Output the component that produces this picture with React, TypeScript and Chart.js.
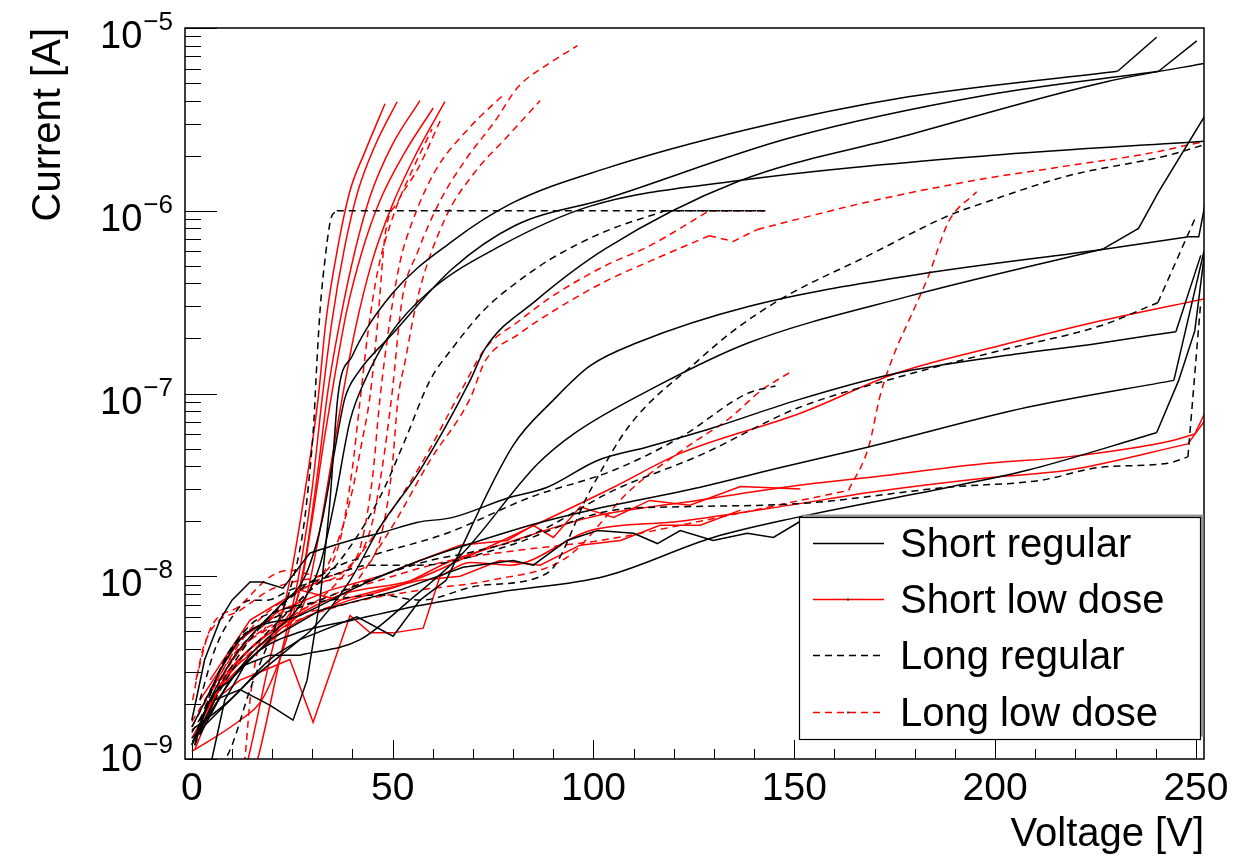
import { useEffect, useRef } from "react";
import { Chart, registerables } from "chart.js";

Chart.register(...registerables);

// ---------- Short regular (black solid) ----------
const srA_v = [0, 5.7, 12, 19.4, 25.2, 28.7, 31.9, 34.4, 36.4, 39.9, 49.8, 64.8, 79.7, 102.9, 138.8, 178.4, 230.5, 240.2];
const srA_i = [1.19e-9, 2.1e-9, 2.4e-9, 1.97e-9, 1.63e-9, 2.7e-9, 7.4e-9, 2.6e-8, 9.8e-8, 1.6e-7, 3.5e-7, 6.8e-7, 1.1e-6, 1.7e-6, 2.8e-6, 4.2e-6, 5.8e-6, 8.9e-6];
const srB_v = [0, 4.5, 10, 15.7, 21.9, 28.2, 32.4, 35.6, 38.1, 41.4, 49.8, 64.8, 80.5, 102.9, 148.8, 198, 240.7, 250.2];
const srB_i = [1.2e-9, 2.1e-9, 3.5e-9, 5.0e-9, 6.9e-9, 1.0e-8, 2.0e-8, 4.9e-8, 9.4e-8, 1.3e-7, 2.1e-7, 4.8e-7, 8.3e-7, 1.16e-6, 2.5e-6, 4.3e-6, 5.8e-6, 8.5e-6];
const srC_v = [0, 9.5, 19.4, 29.4, 39.4, 46.8, 56.8, 69.3, 73, 85.5, 103, 135.8, 178.4, 228, 252.2];
const srC_i = [1.44e-9, 2.1e-9, 3.5e-9, 5.0e-9, 9.5e-9, 1.85e-8, 3.8e-8, 1.18e-7, 1.76e-7, 3.2e-7, 6.2e-7, 1.44e-6, 2.6e-6, 5.1e-6, 6.4e-6];
const srD_v = [2, 8.2, 14.5, 20.7, 26.9, 31.9, 35.6, 39.4, 43.1, 49.3, 59.3, 76.7, 99.2, 135.8, 198, 252.2];
const srD_i = [1.35e-9, 2.4e-9, 3.7e-9, 5.0e-9, 6.9e-9, 1.15e-8, 2.6e-8, 7.1e-8, 1.18e-7, 2.1e-7, 3.65e-7, 6.4e-7, 1.06e-6, 1.46e-6, 2.0e-6, 2.4e-6];
const srE_v = [0, 14.5, 26.9, 41.1, 50.1, 56.8, 63.3, 80, 90, 99.2, 111, 138.8, 178.4, 228, 248.2, 250.7, 252.2];
const srE_i = [1.3e-9, 2.7e-9, 4.5e-9, 6.0e-9, 4.7e-9, 7.4e-9, 9.5e-9, 5.2e-8, 9.2e-8, 1.42e-7, 1.9e-7, 3.0e-7, 4.4e-7, 6.2e-7, 7.2e-7, 7.2e-7, 1.07e-6];
const srF_v = [5, 8.2, 13.2, 19.4, 26.9, 41.9, 54.3, 67.5, 86, 95, 115.9, 138.8, 178.4, 227, 235.7, 240.7, 252.2];
const srF_i = [1.0e-9, 2.1e-9, 3.27e-9, 3.7e-9, 3.7e-9, 4.5e-9, 7.4e-9, 1.34e-8, 4.1e-8, 6.0e-8, 1.1e-7, 1.9e-7, 3.4e-7, 6.2e-7, 8.0e-7, 1.27e-6, 3.3e-6];
const srG_v = [0, 3.2, 7, 10, 14.5, 17.7, 22.7, 29.4, 39.4, 47.6, 56, 65, 78.5, 88.5, 101, 113.4, 129.8, 150.7, 175.4, 201.3, 225.5, 245, 251.2];
const srG_i = [1.63e-9, 3.5e-9, 5.75e-9, 7.4e-9, 9.3e-9, 9.3e-9, 8.6e-9, 1.34e-8, 1.57e-8, 1.74e-8, 1.97e-8, 2.1e-8, 2.67e-8, 3.07e-8, 4.3e-8, 5.1e-8, 6.5e-8, 9.2e-8, 1.29e-7, 1.6e-7, 1.88e-7, 2.18e-7, 5.7e-7];
const srH_v = [0, 12, 26.9, 41.9, 56.8, 71.8, 86.7, 99.2, 126.6, 145.8, 168.5, 208, 244.5, 252];
const srH_i = [1.5e-9, 4.5e-9, 6.1e-9, 8.9e-9, 1.22e-8, 1.57e-8, 1.97e-8, 2.3e-8, 3.07e-8, 3.9e-8, 5.1e-8, 8.4e-8, 1.18e-7, 6.0e-7];
const srK_v = [0.7, 4.5, 9.5, 17, 26.9, 39.9, 56.3, 76.7, 102.9, 129.8, 150.7, 188.4, 208, 240.2, 245.7, 249.7, 252.2];
const srK_i = [1.19e-9, 2.1e-9, 2.7e-9, 3.95e-9, 4.95e-9, 5.75e-9, 6.9e-9, 8.2e-9, 1.0e-8, 1.63e-8, 2.1e-8, 3.07e-8, 3.8e-8, 6.1e-8, 1.18e-7, 2.2e-7, 6.0e-7];
const srL_v = [2, 9.5, 19.4, 31.9, 41.9, 51.8, 67.5, 80, 85, 93.4, 101, 110, 115.9, 121.6, 129.8, 138.3, 144.8, 151.5];
const srL_i = [1.44e-9, 2.7e-9, 4.5e-9, 6.5e-9, 7.4e-9, 8.4e-9, 1.12e-8, 1.22e-8, 1.15e-8, 1.57e-8, 1.78e-8, 1.72e-8, 1.51e-8, 1.78e-8, 1.57e-8, 1.72e-8, 1.63e-8, 2.0e-8];

// ---------- Long regular (black dashed) ----------
const lrA_v = [6, 10, 14.5, 19.4, 24.4, 27.7, 29.4, 30.4, 30.9, 31.9, 33.4, 34.6, 36.1, 142.8];
const lrA_i = [8e-10, 1.19e-9, 2.4e-9, 4.5e-9, 8.4e-9, 1.78e-8, 3.8e-8, 7.1e-8, 1.18e-7, 2.8e-7, 6.0e-7, 9.0e-7, 1.0e-6, 1.0e-6];
const lrB_v = [1.5, 7, 14.5, 21.9, 34.4, 46.8, 56.8, 71.8, 88.5, 99.2, 109, 125.8, 134.8, 146.8, 168.5, 188.4, 198, 218, 242.7, 252.2];
const lrB_i = [1.44e-9, 3.07e-9, 5.4e-9, 6.5e-9, 7.4e-9, 7.9e-9, 7.4e-9, 8.9e-9, 1.04e-8, 2.95e-8, 6.7e-8, 1.5e-7, 2.2e-7, 3.3e-7, 5.7e-7, 9.4e-7, 1.12e-6, 1.55e-6, 2.0e-6, 2.3e-6];
const lrC_v = [0, 14.5, 26.9, 36.9, 46.8, 63.5, 84.2, 105, 121.6, 138.3, 145.3];
const lrC_i = [1.4e-9, 4.5e-9, 8.4e-9, 1.15e-8, 1.34e-8, 1.72e-8, 2.7e-8, 3.8e-8, 5.75e-8, 1.0e-7, 1.1e-7];
const lrD_v = [2, 9.5, 19.4, 31.9, 46.8, 59.3, 69.3, 84.2, 105, 126.6, 150.7, 175.4, 201.3, 226.3, 240.5, 249.9];
const lrD_i = [1.63e-9, 3.95e-9, 5.75e-9, 7.4e-9, 1.0e-8, 1.22e-8, 1.35e-8, 1.67e-8, 2.95e-8, 4.6e-8, 8.3e-8, 1.22e-7, 1.72e-7, 2.35e-7, 3.14e-7, 9.2e-7];
const lrE_v = [2, 5.7, 9.5, 14.5, 18.7, 24.4, 34.4, 44.4, 56.8, 76.7, 105, 121.6, 151.5, 188.4, 211.3, 226.3, 243, 248, 251.2];
const lrE_i = [2.1e-9, 3.95e-9, 5.75e-9, 7.4e-9, 7.4e-9, 8.4e-9, 1.0e-8, 1.15e-8, 1.15e-8, 1.42e-8, 2.3e-8, 2.4e-8, 2.5e-8, 3.07e-8, 3.35e-8, 3.95e-8, 4.15e-8, 4.5e-8, 3.2e-7];
const lrF_v = [0.7, 5.7, 12, 17, 26.9, 36.9, 46.8, 53, 59.3, 64.8, 73, 81.2, 89.7, 102.9, 117.9, 142.8];
const lrF_i = [1.19e-9, 2.1e-9, 3.5e-9, 4.5e-9, 7.4e-9, 1.22e-8, 2.7e-8, 5.5e-8, 1.18e-7, 1.76e-7, 2.9e-7, 4.1e-7, 5.5e-7, 7.7e-7, 1.0e-6, 1.0e-6];

// ---------- Short low dose (red solid) ----------
const sdA_v = [12, 14, 19.4, 24.4, 28.2, 31.4, 33.4, 36.4, 39.4, 43.1, 48.1];
const sdA_i = [7e-10, 1.0e-9, 3.5e-9, 9.5e-9, 2.95e-8, 9.2e-8, 2.5e-7, 6.4e-7, 1.29e-6, 2.1e-6, 3.85e-6];
const sdB_v = [14, 16.4, 21.9, 26.4, 29.9, 32.4, 34.9, 38.1, 41.4, 45.6, 51.1];
const sdB_i = [7e-10, 1.0e-9, 3.5e-9, 9.5e-9, 2.95e-8, 9.2e-8, 2.5e-7, 6.4e-7, 1.29e-6, 2.27e-6, 3.95e-6];
const sdC_v = [0, 12, 17.4, 21.9, 24.9, 28.2, 31.4, 33.9, 36.9, 40.6, 44.4, 49.8, 56.8];
const sdC_i = [1.1e-9, 1.63e-9, 2.1e-9, 3.5e-9, 5.75e-9, 1.22e-8, 3.8e-8, 1.04e-7, 2.5e-7, 6.0e-7, 1.2e-6, 2.27e-6, 4.0e-6];
const sdD_v = [2, 9.5, 17, 23.2, 26.9, 29.9, 32.9, 35.4, 38.6, 42.4, 46.8, 53.1, 60.1];
const sdD_i = [1.63e-9, 3.07e-9, 4.5e-9, 5.75e-9, 8.4e-9, 2.0e-8, 5.5e-8, 1.18e-7, 2.85e-7, 6.0e-7, 1.13e-6, 2.1e-6, 3.65e-6];
const sdE_v = [0.7, 8.2, 15.7, 21.9, 28.2, 31.4, 34.4, 36.9, 40.6, 44.9, 49.8, 55.6, 63];
const sdE_i = [1.27e-9, 2.7e-9, 3.95e-9, 5.1e-9, 7.4e-9, 1.57e-8, 3.8e-8, 8.1e-8, 2.2e-7, 5.3e-7, 1.06e-6, 2.0e-6, 3.95e-6];
const sdF_v = [2, 12, 24.4, 36.9, 55, 69.3, 84.2, 105, 121.6, 151.5, 175.4, 201.3, 226.3, 252.2];
const sdF_i = [1.63e-9, 3.5e-9, 5.75e-9, 7.9e-9, 9.5e-9, 1.3e-8, 1.85e-8, 3.07e-8, 4.7e-8, 7.8e-8, 1.29e-7, 1.83e-7, 2.5e-7, 3.3e-7];
const sdG_v = [0, 7, 17, 26.9, 39.4, 51.8, 64.8, 76.7, 99.2, 125.8, 150.7, 168.5, 198.1, 218, 243.7, 249.7, 252.2];
const sdG_i = [1.3e-9, 2.4e-9, 3.95e-9, 5.75e-9, 7.4e-9, 8.9e-9, 1.22e-8, 1.48e-8, 2.1e-8, 2.6e-8, 3.14e-8, 3.47e-8, 4.15e-8, 4.5e-8, 5.5e-8, 6.0e-8, 7.8e-8];
const sdH_v = [0.7, 5.7, 12, 18.2, 24.4, 30.2, 39.4, 44.4, 50.1, 57.6, 61.8, 69.3, 79.2, 99.2, 121.6, 149, 169, 198.9, 218, 248, 252.2];
const sdH_i = [1.12e-9, 2.1e-9, 2.7e-9, 3.07e-9, 3.5e-9, 1.59e-9, 6.1e-9, 4.9e-9, 4.9e-9, 5.2e-9, 1.0e-8, 1.19e-8, 1.15e-8, 1.78e-8, 2.0e-8, 2.45e-8, 2.88e-8, 3.47e-8, 3.8e-8, 5.3e-8, 7.1e-8];
const sdI_v = [2, 12, 21.9, 34.4, 46.8, 56.8, 66.8, 78.5, 85, 90, 96.7, 105, 114, 124, 136.6, 151.5];
const sdI_i = [2.1e-9, 4.5e-9, 6.5e-9, 8.4e-9, 1.0e-8, 1.22e-8, 1.48e-8, 1.57e-8, 1.9e-8, 1.63e-8, 2.4e-8, 2.1e-8, 2.6e-8, 2.45e-8, 3.1e-8, 3.0e-8];
const sdJ_v = [4.5, 14.5, 26.9, 36.9, 46.8, 56.8, 66.8, 76.7, 86.7, 96.7, 106.7, 116.6, 126.6, 136.6];
const sdJ_i = [2.7e-9, 5.75e-9, 8.4e-9, 7.4e-9, 8.4e-9, 9.5e-9, 1.0e-8, 1.22e-8, 1.15e-8, 1.48e-8, 1.57e-8, 1.9e-8, 1.9e-8, 2.3e-8];

// ---------- Long low dose (red dashed) ----------
const ldA_v = [0, 9.5, 19.4, 26.9, 34.4, 39.4, 42.4, 44.4, 46.3, 48.1, 51.3, 56.3, 62.3];
const ldA_i = [1.5e-9, 3.5e-9, 5.75e-9, 7.4e-9, 1.22e-8, 2.6e-8, 5.5e-8, 9.8e-8, 2.5e-7, 7.3e-7, 1.12e-6, 1.7e-6, 3.27e-6];
const ldB_v = [1, 4.5, 12, 19.4, 24.4, 31.9, 40.6, 44.9, 46.8, 49.3, 51.8, 54.8, 60.6, 68.8, 78];
const ldB_i = [2.7e-9, 5.1e-9, 6.9e-9, 9.9e-9, 1.08e-8, 1.0e-8, 1.22e-8, 3.35e-8, 9.2e-8, 2.5e-7, 5.2e-7, 8.6e-7, 1.65e-6, 2.8e-6, 4.4e-6];
const ldC_v = [0, 14.5, 26.9, 38.1, 44.4, 47.3, 49.8, 52.3, 56.3, 61.8, 68, 75.5, 81.2, 88, 96];
const ldC_i = [1.6e-9, 5.1e-9, 8.4e-9, 1.08e-8, 1.78e-8, 3.8e-8, 9.8e-8, 3.2e-7, 6.0e-7, 1.13e-6, 1.88e-6, 3.1e-6, 4.75e-6, 6.2e-6, 8.0e-6];
const ldD_v = [12, 13.2, 14.5, 16.4, 19.4, 29.4, 40.6, 46.8, 49.8, 51.3, 53.1, 56.3, 63, 70.5, 78, 86.7];
const ldD_i = [7e-10, 1.0e-9, 2.1e-9, 3.95e-9, 5.75e-9, 8.9e-9, 1.05e-8, 1.57e-8, 3.8e-8, 9.2e-8, 1.5e-7, 3.4e-7, 9.0e-7, 1.63e-6, 2.47e-6, 4.0e-6];
const ldE_v = [0.2, 2.7, 5.7, 12, 19.4, 26.9, 33.1, 36.9, 39.9, 41.9, 43.9, 46.3, 50.6, 54.8, 59.8];
const ldE_i = [2.1e-9, 3.95e-9, 5.4e-9, 6.5e-9, 8.4e-9, 9.5e-9, 1.05e-8, 1.57e-8, 3.8e-8, 9.2e-8, 2.2e-7, 4.7e-7, 1.0e-6, 1.65e-6, 2.8e-6];
const ldF_v = [2, 12, 23.2, 34.4, 46.8, 56.8, 67.3, 73, 81.2, 89.7, 102.9, 114.1, 128.8, 142.8];
const ldF_i = [1.63e-9, 3.95e-9, 5.75e-9, 8.4e-9, 1.85e-8, 4.0e-8, 1.06e-7, 1.76e-7, 2.47e-7, 3.4e-7, 5.0e-7, 6.45e-7, 1.0e-6, 1.0e-6];
const ldG_v = [3.2, 14.5, 25.7, 36.9, 49.3, 59.3, 69.3, 73, 81.2, 89.7, 102.9, 114.1, 128.8, 134.8, 140.8, 168.5, 194.4, 218, 237.7, 252.2];
const ldG_i = [2.1e-9, 4.5e-9, 6.1e-9, 7.4e-9, 1.78e-8, 4.3e-8, 9.4e-8, 1.5e-7, 2.1e-7, 2.8e-7, 4.1e-7, 5.3e-7, 7.3e-7, 6.8e-7, 7.9e-7, 1.12e-6, 1.46e-6, 1.76e-6, 2.05e-6, 2.4e-6];
const ldH_v = [7, 21.9, 36.9, 56.8, 74.3, 93.4, 109.1, 123.8, 133.8, 141.8, 149.8];
const ldH_i = [2.7e-9, 5.1e-9, 6.9e-9, 8.4e-9, 9.5e-9, 1.27e-8, 2.95e-8, 5.2e-8, 7.3e-8, 1.04e-7, 1.34e-7];
const ldI_v = [4.5, 17, 31.9, 46.8, 64.3, 81.7, 101.7, 126.6, 151.5, 163.5, 168.5, 171.4, 175.2, 178.4, 183.4, 188.4, 195.4];
const ldI_i = [2.4e-9, 4.5e-9, 7.4e-9, 9.5e-9, 1.22e-8, 1.39e-8, 1.57e-8, 2.0e-8, 2.6e-8, 2.95e-8, 5.1e-8, 9.8e-8, 1.72e-7, 2.47e-7, 4.4e-7, 8.7e-7, 1.27e-6];

// ---------- axes / legend text ----------
const xMajorTicks = [0, 50, 100, 150, 200, 250];
const xMinorStep = 10;
const yDecades = [-9, -8, -7, -6, -5];
const legendLabels = ["Short regular", "Short low dose", "Long regular", "Long low dose"];
const xTitle = "Voltage [V]";
const yTitle = "Current [A]";

const FONT = '"Liberation Sans", Arial, Helvetica, sans-serif';

// [voltages, currents, index ranges drawn as smooth curves (rest straight)]
type Ser = [number[], number[], number[][]];
const groupSeries: Ser[][] = [
  [
    [srA_v, srA_i, [[6, 16]]], [srB_v, srB_i, [[0, 16]]], [srC_v, srC_i, [[0, 14]]], [srD_v, srD_i, [[0, 15]]],
    [srE_v, srE_i, [[6, 14]]], [srF_v, srF_i, [[4, 13]]], [srG_v, srG_i, [[7, 21]]], [srH_v, srH_i, [[0, 12]]],
    [srK_v, srK_i, [[0, 13]]], [srL_v, srL_i, []],
  ],
  [
    [sdA_v, sdA_i, [[0, 10]]], [sdB_v, sdB_i, [[0, 10]]], [sdC_v, sdC_i, [[0, 12]]], [sdD_v, sdD_i, [[0, 12]]],
    [sdE_v, sdE_i, [[0, 12]]], [sdF_v, sdF_i, [[0, 13]]], [sdG_v, sdG_i, [[0, 15]]], [sdH_v, sdH_i, [[10, 19]]],
    [sdI_v, sdI_i, []], [sdJ_v, sdJ_i, []],
  ],
  [
    [lrA_v, lrA_i, [[0, 12]]], [lrB_v, lrB_i, [[0, 19]]], [lrC_v, lrC_i, [[0, 10]]], [lrD_v, lrD_i, [[0, 14]]],
    [lrE_v, lrE_i, [[0, 17]]], [lrF_v, lrF_i, [[0, 14]]],
  ],
  [
    [ldA_v, ldA_i, [[0, 12]]], [ldB_v, ldB_i, [[0, 14]]], [ldC_v, ldC_i, [[0, 14]]], [ldD_v, ldD_i, [[0, 15]]],
    [ldE_v, ldE_i, [[0, 14]]], [ldF_v, ldF_i, [[0, 12]]], [ldG_v, ldG_i, [[0, 12], [14, 19]]], [ldH_v, ldH_i, [[0, 10]]],
    [ldI_v, ldI_i, [[0, 9], [9, 16]]],
  ],
];
const groupColor = ["#000000", "#ff0000", "#000000", "#ff0000"];
const groupDash: number[][] = [[], [], [7, 5], [7, 5]];
const drawOrder = [0, 2, 3, 1];

export default function App() {
  const ref = useRef<HTMLCanvasElement>(null);

  useEffect(() => {
    document.body.style.margin = "0";
    const canvas = ref.current;
    if (!canvas) return;

    const datasets: any[] = [];
    drawOrder.forEach((g) => {
      groupSeries[g].forEach(([v, cur, ranges]) => {
        const pts = v.map((x, k) => ({ x, y: cur[k] }));
        const n = pts.length;
        const pieces: { a: number; b: number; smooth: boolean }[] = [];
        let pos = 0;
        ranges.forEach(([s, e]) => {
          if (s > pos) pieces.push({ a: pos, b: s, smooth: false });
          pieces.push({ a: s, b: e, smooth: true });
          pos = e;
        });
        if (pos < n - 1) pieces.push({ a: pos, b: n - 1, smooth: false });
        pieces.forEach((p) => {
          datasets.push({
            data: pts.slice(p.a, p.b + 1),
            borderColor: groupColor[g],
            borderWidth: 1.5,
            borderDash: groupDash[g],
            pointRadius: 0,
            fill: false,
            tension: 0,
            cubicInterpolationMode: p.smooth ? "monotone" : "default",
          });
        });
      });
    });

    const rootPlugin = {
      id: "rootStyle",
      afterDatasetsDraw(chart: any) {
        const ctx = chart.ctx as CanvasRenderingContext2D;
        const { left, right, top, bottom } = chart.chartArea;
        const xs = chart.scales.x;
        const ys = chart.scales.y;
        ctx.save();
        ctx.setLineDash([]);
        ctx.strokeStyle = "#000";
        ctx.lineWidth = 1.5;
        ctx.strokeRect(left, top, right - left, bottom - top);

        ctx.lineWidth = 1;
        ctx.beginPath();
        const xmax = xMajorTicks[xMajorTicks.length - 1];
        for (let v = xMajorTicks[0]; v <= xmax; v += xMinorStep) {
          const px = Math.round(xs.getPixelForValue(v)) + 0.5;
          const len = xMajorTicks.includes(v) ? 19 : 10;
          ctx.moveTo(px, bottom);
          ctx.lineTo(px, bottom - len);
        }
        yDecades.forEach((e, idx) => {
          const last = idx === yDecades.length - 1;
          for (let m = 1; m <= (last ? 1 : 9); m++) {
            const val = m * Math.pow(10, e);
            const py = Math.round(ys.getPixelForValue(val)) + 0.5;
            const len = m === 1 ? 32 : 16;
            ctx.moveTo(left, py);
            ctx.lineTo(left + len, py);
          }
        });
        ctx.stroke();

        ctx.fillStyle = "#000";
        ctx.font = `39px ${FONT}`;
        ctx.textAlign = "center";
        ctx.textBaseline = "alphabetic";
        xMajorTicks.forEach((v) => {
          ctx.fillText(String(v), xs.getPixelForValue(v), 800);
        });

        yDecades.forEach((e) => {
          const py = ys.getPixelForValue(Math.pow(10, e));
          const shift = e === yDecades[0] ? -8 : 0;
          const rightX = left - 12;
          const sup = "\u2212" + String(-e);
          ctx.textAlign = "right";
          ctx.font = `26px ${FONT}`;
          const supW = ctx.measureText(sup).width;
          ctx.fillText(sup, rightX, py + 2 + shift);
          ctx.font = `38px ${FONT}`;
          ctx.fillText("10", rightX - supW - 1, py + 20 + shift);
        });

        ctx.font = `40px ${FONT}`;
        ctx.textAlign = "right";
        ctx.fillText(xTitle, right, 846);
        ctx.save();
        ctx.translate(60, top);
        ctx.rotate(-Math.PI / 2);
        ctx.textAlign = "right";
        ctx.fillText(yTitle, 0, 0);
        ctx.restore();
        ctx.restore();
      },
      afterDraw(chart: any) {
        const ctx = chart.ctx as CanvasRenderingContext2D;
        ctx.save();
        const bx = 799.5, by = 517.5, bw = 401, bh = 222;
        ctx.fillStyle = "#9a9a9a";
        ctx.fillRect(bx + 3, by - 3, bw, bh);
        ctx.fillStyle = "#ffffff";
        ctx.fillRect(bx, by, bw, bh);
        ctx.strokeStyle = "#000";
        ctx.lineWidth = 1.2;
        ctx.setLineDash([]);
        ctx.strokeRect(bx, by, bw, bh);

        const rowsY = [543, 599, 655, 712];
        ctx.font = `40px ${FONT}`;
        ctx.textAlign = "left";
        ctx.textBaseline = "alphabetic";
        [0, 1, 2, 3].forEach((g, r) => {
          const y = rowsY[r];
          ctx.beginPath();
          ctx.strokeStyle = groupColor[g];
          ctx.lineWidth = 1.5;
          ctx.setLineDash(groupDash[g]);
          ctx.moveTo(813, y + 0.5);
          ctx.lineTo(884, y + 0.5);
          ctx.stroke();
          ctx.setLineDash([]);
          if (g === 1 || g === 3) {
            ctx.fillStyle = "#333";
            ctx.fillRect(847, y - 0.5, 2, 2);
          }
          ctx.fillStyle = "#000";
          ctx.fillText(legendLabels[g], 900, y + 14);
        });
        ctx.restore();
      },
    };

    const chart = new Chart(canvas, {
      type: "line",
      data: { datasets },
      options: {
        animation: false,
        responsive: false,
        devicePixelRatio: 1,
        events: [],
        layout: { padding: { left: 185, right: 46, top: 28, bottom: 99 } },
        scales: {
          x: { type: "linear", min: -1.7, max: 252, display: false },
          y: { type: "logarithmic", min: 1e-9, max: 1e-5, display: false },
        },
        plugins: { legend: { display: false }, tooltip: { enabled: false } },
      },
      plugins: [rootPlugin],
    } as any);

    return () => chart.destroy();
  }, []);

  return (
    <div style={{ width: 1250, height: 858, background: "#fff" }}>
      <canvas ref={ref} width={1250} height={858} style={{ display: "block" }} />
    </div>
  );
}
